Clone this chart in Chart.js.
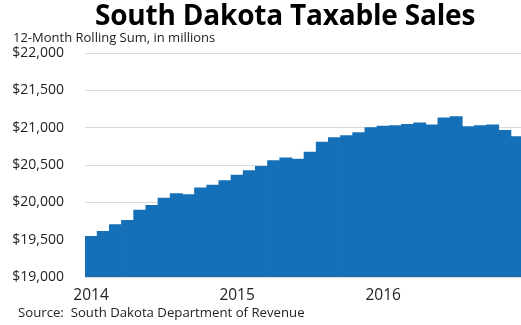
<!DOCTYPE html>
<html>
<head>
<meta charset="utf-8">
<script src="https://cdn.jsdelivr.net/npm/chart.js@4.4.0/dist/chart.umd.min.js"></script>
<style>
  html, body { margin: 0; padding: 0; background: #fff; overflow: hidden; }
  #wrap { position: relative; width: 521px; height: 325px; overflow: hidden; }
  #chart { position: absolute; left: 0; top: 0; }
  .txt { position: absolute; font-family: "Open Sans", sans-serif; color: #000; white-space: nowrap; }
  #title { left: 95px; top: -5px; font-size: 28px; font-weight: bold; letter-spacing: -0.2px; }
  #subtitle { left: 13px; top: 28px; font-size: 13px; color: #222; }
  #source { left: 18px; top: 303px; font-size: 13.2px; color: #222; }
</style>
</head>
<body>
<div id="wrap">
  <canvas id="chart" width="526" height="325"></canvas>
  <div class="txt" id="title">South Dakota Taxable Sales</div>
  <div class="txt" id="subtitle">12-Month Rolling Sum, in millions</div>
  <div class="txt" id="source">Source:&nbsp; South Dakota Department of Revenue</div>
</div>
<script>
// Jan 2014 .. Dec 2016, one bar per month
const months = [
  'Jan 2014','Feb 2014','Mar 2014','Apr 2014','May 2014','Jun 2014','Jul 2014','Aug 2014','Sep 2014','Oct 2014','Nov 2014','Dec 2014',
  'Jan 2015','Feb 2015','Mar 2015','Apr 2015','May 2015','Jun 2015','Jul 2015','Aug 2015','Sep 2015','Oct 2015','Nov 2015','Dec 2015',
  'Jan 2016','Feb 2016','Mar 2016','Apr 2016','May 2016','Jun 2016','Jul 2016','Aug 2016','Sep 2016','Oct 2016','Nov 2016','Dec 2016'
];
const yearLabels = ['2014', '2015', '2016'];
const sales = [
  19550, 19617, 19706, 19764, 19902, 19965, 20063, 20121, 20108, 20197, 20237, 20296,
  20371, 20430, 20487, 20564, 20599, 20585, 20679, 20813, 20872, 20899, 20939, 21006,
  21027, 21033, 21050, 21068, 21041, 21135, 21153, 21019, 21033, 21041, 20970, 20885
];
const yMin = 19000, yMax = 22000, yStep = 500;

const ctx = document.getElementById('chart').getContext('2d');
new Chart(ctx, {
  type: 'bar',
  data: {
    labels: months,
    datasets: [{
      data: sales,
      backgroundColor: '#1570b8',
      borderWidth: 0,
      barPercentage: 1.06,
      categoryPercentage: 1.0
    }]
  },
  options: {
    responsive: false,
    animation: false,
    layout: { padding: { top: 53, right: 0, left: 0, bottom: 0 } },
    plugins: { legend: { display: false }, tooltip: { enabled: false } },
    scales: {
      x: {
        grid: { display: false, drawTicks: false },
        border: { color: '#d9d9d9' },
        afterFit: function (scale) { scale.height = 48; },
        ticks: {
          autoSkip: false,
          maxRotation: 0,
          padding: 9,
          color: '#222',
          font: { family: 'Open Sans', size: 15.5 },
          callback: function (val, i) {
            return i % 12 === 0 ? yearLabels[i / 12] : '';
          }
        }
      },
      y: {
        min: yMin,
        max: yMax,
        grid: { color: '#d9d9d9', drawTicks: false },
        border: { display: false },
        afterFit: function (scale) { scale.width = 85; },
        ticks: {
          stepSize: yStep,
          padding: 21,
          color: '#222',
          font: { family: 'Open Sans', size: 14 },
          callback: function (v) { return '$' + v.toLocaleString('en-US'); }
        }
      }
    }
  }
});
</script>
</body>
</html>
